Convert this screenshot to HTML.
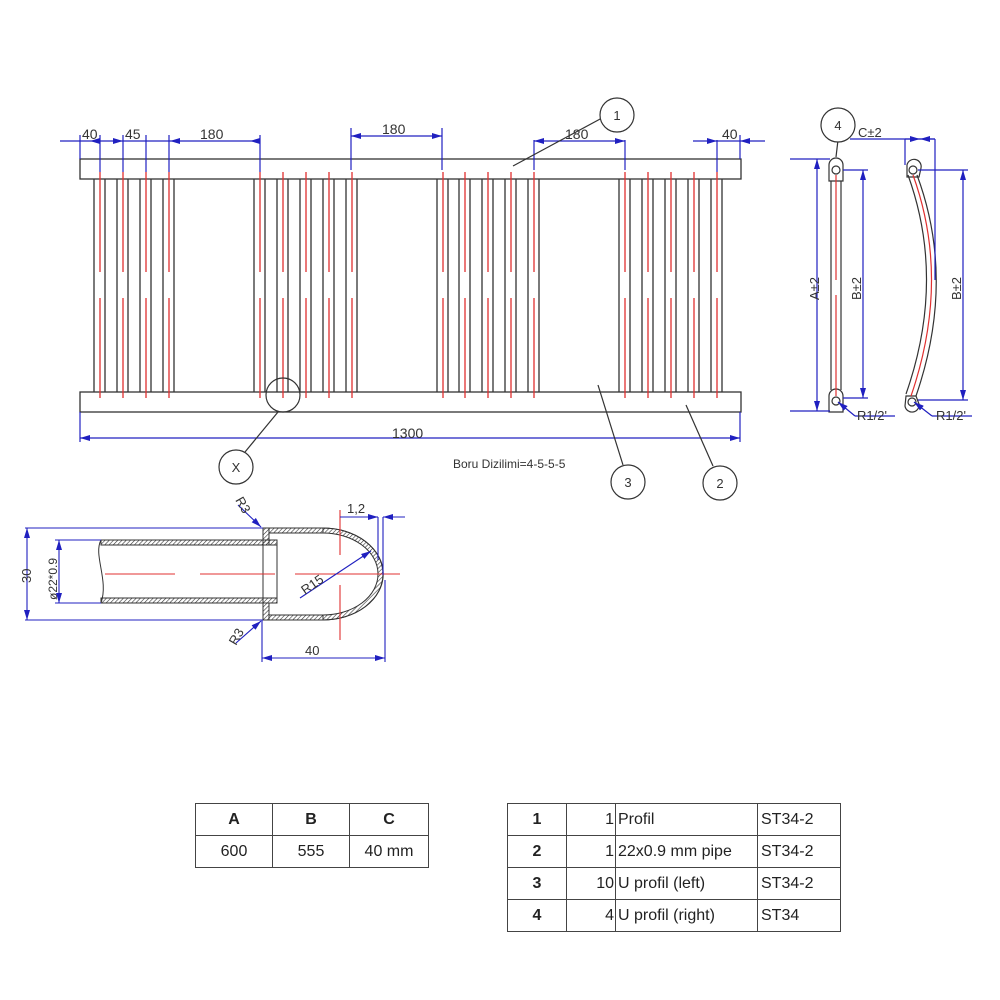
<!DOCTYPE html>
<html><head><meta charset="utf-8"><style>
html,body{margin:0;padding:0;background:#fff;}
svg{display:block;font-family:"Liberation Sans",sans-serif;}
table{position:absolute;border-collapse:collapse;font-family:"Liberation Sans",sans-serif;font-size:16px;color:#222;}
td{border:1px solid #444;height:31px;padding:0 3px;}
</style></head><body>
<div style="position:relative;width:1000px;height:1000px;overflow:hidden;">
<svg width="1000" height="1000" viewBox="0 0 1000 1000">
<defs>
<g id="t">
<line x1="-6" y1="179" x2="-6" y2="392" stroke="#333" stroke-width="1.3"/>
<line x1="5" y1="179" x2="5" y2="392" stroke="#333" stroke-width="1.3"/>
<line x1="0" y1="172" x2="0" y2="272" stroke="#e03030" stroke-width="1.3"/>
<line x1="0" y1="298" x2="0" y2="398" stroke="#e03030" stroke-width="1.3"/>
</g>
<marker id="a" viewBox="0 0 10 6" refX="10" refY="3" markerWidth="10" markerHeight="6" orient="auto-start-reverse" markerUnits="userSpaceOnUse"><path d="M0,0L10,3L0,6z" fill="#2020c0"/></marker>
<pattern id="h" width="3" height="3" patternUnits="userSpaceOnUse" patternTransform="rotate(45)"><line x1="0" y1="0" x2="0" y2="3" stroke="#333" stroke-width="1.2"/></pattern>
</defs>
<!-- main frame -->
<rect x="80" y="159" width="661" height="20" fill="none" stroke="#333" stroke-width="1.3"/>
<rect x="80" y="392" width="661" height="20" fill="none" stroke="#333" stroke-width="1.3"/>
<g>
<use href="#t" x="100"/><use href="#t" x="123"/><use href="#t" x="146"/><use href="#t" x="169"/>
<use href="#t" x="260"/><use href="#t" x="283"/><use href="#t" x="306"/><use href="#t" x="329"/><use href="#t" x="352"/>
<use href="#t" x="443"/><use href="#t" x="465"/><use href="#t" x="488"/><use href="#t" x="511"/><use href="#t" x="534"/>
<use href="#t" x="625"/><use href="#t" x="648"/><use href="#t" x="671"/><use href="#t" x="694"/><use href="#t" x="717"/>
</g>
<!-- dimensions top -->
<g stroke="#2020c0" stroke-width="1.2" fill="none">
<line x1="80" y1="135" x2="80" y2="159"/><line x1="100" y1="135" x2="100" y2="172"/><line x1="123" y1="135" x2="123" y2="172"/>
<line x1="146" y1="135" x2="146" y2="172"/><line x1="169" y1="135" x2="169" y2="172"/><line x1="260" y1="135" x2="260" y2="172"/>
<line x1="60" y1="141" x2="260" y2="141"/>
<line x1="351" y1="128" x2="351" y2="170"/><line x1="442" y1="128" x2="442" y2="170"/>
<line x1="351" y1="136" x2="442" y2="136" marker-start="url(#a)" marker-end="url(#a)"/>
<line x1="534" y1="140" x2="534" y2="170"/><line x1="625" y1="140" x2="625" y2="170"/>
<line x1="534" y1="141" x2="625" y2="141" marker-start="url(#a)" marker-end="url(#a)"/>
<line x1="717" y1="140" x2="717" y2="172"/><line x1="740" y1="135" x2="740" y2="159"/>
<line x1="693" y1="141" x2="765" y2="141"/>
<line x1="80" y1="412" x2="80" y2="442"/><line x1="740" y1="412" x2="740" y2="442"/>
<line x1="80" y1="438" x2="740" y2="438" marker-start="url(#a)" marker-end="url(#a)"/>
</g>
<g fill="#2020c0"><path d="M170,141l10,-3v6z"/><path d="M250,141l10,-3v6z"/><path d="M717,141l-10,-3v6z"/><path d="M740,141l10,-3v6z"/><path d="M90,141l10,-3v6z"/><path d="M123,141l-10,-3v6z"/></g>
<g font-size="14" fill="#333">
<text x="82" y="139">40</text><text x="125" y="139">45</text><text x="200" y="139">180</text>
<text x="382" y="134">180</text><text x="565" y="139">180</text><text x="722" y="139">40</text>
<text x="392" y="438">1300</text>
<text x="453" y="468" font-size="12">Boru Dizilimi=4-5-5-5</text>
</g>
<!-- balloons -->
<g stroke="#333" stroke-width="1.2" fill="#fff">
<line x1="513" y1="166" x2="602" y2="118"/>
<circle cx="617" cy="115" r="17"/>
<line x1="598" y1="385" x2="623" y2="465"/><circle cx="628" cy="482" r="17"/>
<line x1="686" y1="405" x2="713" y2="466"/><circle cx="720" cy="483" r="17"/>
<circle cx="283" cy="395" r="17" fill="none"/>
<line x1="278" y1="412" x2="245" y2="452"/><circle cx="236" cy="467" r="17"/>
<line x1="838" y1="140" x2="836" y2="157"/><circle cx="838" cy="125" r="17"/>
</g>
<g font-size="13" fill="#333" text-anchor="middle">
<text x="617" y="120">1</text><text x="628" y="487">3</text><text x="720" y="488">2</text><text x="236" y="472">X</text><text x="838" y="130">4</text>
</g>
<!-- side views -->
<g stroke="#333" stroke-width="1.2" fill="none">
<path d="M829,181V165a7,7 0 0 1 14,0V181z"/>
<path d="M829,396V412h14V396a7,7 0 0 0 -14,0z"/>
<line x1="831" y1="181" x2="831" y2="390"/><line x1="841" y1="181" x2="841" y2="390"/>
<circle cx="836" cy="170" r="4"/><circle cx="836" cy="401" r="4"/>
<path d="M908,175 Q946,280 906,394"/><path d="M917,175 Q956,280 916,396"/>
<path d="M907,165a7,7 0 0 1 14,3l-2,9h-12z"/><path d="M906,396l10,0l3,8a7,7 0 0 1 -14,2z"/>
<circle cx="913" cy="170" r="4"/><circle cx="912" cy="402" r="4"/>
</g>
<g stroke="#e03030" stroke-width="1.2" fill="none">
<line x1="836" y1="175" x2="836" y2="280"/><line x1="836" y1="295" x2="836" y2="396"/>
<path d="M913,175 Q951,280 911,396"/>
</g>
<g stroke="#2020c0" stroke-width="1.2" fill="none">
<line x1="790" y1="159" x2="830" y2="159"/><line x1="790" y1="411" x2="830" y2="411"/>
<line x1="817" y1="159" x2="817" y2="411" marker-start="url(#a)" marker-end="url(#a)"/>
<line x1="843" y1="170" x2="868" y2="170"/><line x1="843" y1="398" x2="868" y2="398"/>
<line x1="863" y1="170" x2="863" y2="398" marker-start="url(#a)" marker-end="url(#a)"/>
<line x1="918" y1="170" x2="968" y2="170"/><line x1="918" y1="400" x2="968" y2="400"/>
<line x1="963" y1="170" x2="963" y2="400" marker-start="url(#a)" marker-end="url(#a)"/>
<line x1="850" y1="139" x2="935" y2="139"/>
<line x1="905" y1="139" x2="905" y2="165"/><line x1="935" y1="139" x2="935" y2="280"/>
<line x1="905" y1="139" x2="920" y2="139" marker-end="url(#a)"/><line x1="935" y1="139" x2="920" y2="139" marker-end="url(#a)"/>
<line x1="838" y1="402" x2="855" y2="416" marker-start="url(#a)"/><line x1="855" y1="416" x2="895" y2="416"/>
<line x1="914" y1="402" x2="932" y2="416" marker-start="url(#a)"/><line x1="932" y1="416" x2="972" y2="416"/>
</g>
<g font-size="13" fill="#333">
<text x="858" y="137">C±2</text>
<text x="857" y="420">R1/2'</text><text x="936" y="420">R1/2'</text>
<text transform="translate(819,300) rotate(-90)">A±2</text>
<text transform="translate(861,300) rotate(-90)">B±2</text>
<text transform="translate(961,300) rotate(-90)">B±2</text>
</g>
<!-- detail X -->
<g stroke="#333" stroke-width="1">
<path d="M263,528h60a55,42 0 0 1 0,92h-60z" fill="none"/>
<path d="M263,528h60a60,47 0 0 1 0,0" fill="none"/>
<rect x="101" y="540" width="176" height="5" fill="url(#h)"/>
<rect x="101" y="598" width="176" height="5" fill="url(#h)"/>
<rect x="263" y="528" width="6" height="17" fill="url(#h)"/>
<rect x="263" y="603" width="6" height="17" fill="url(#h)"/>
<rect x="269" y="528" width="54" height="5" fill="url(#h)"/>
<rect x="269" y="615" width="54" height="5" fill="url(#h)"/>
<path d="M323,528a60,46 0 0 1 0,92v-5a55,41 0 0 0 0,-82z" fill="url(#h)"/>
<line x1="277" y1="540" x2="277" y2="603"/>
<path d="M101,540c-8,15 8,40 0,63" fill="none"/>
</g>
<g stroke="#e03030" stroke-width="1.1">
<line x1="105" y1="574" x2="175" y2="574"/><line x1="200" y1="574" x2="275" y2="574"/>
<line x1="295" y1="574" x2="400" y2="574"/>
<line x1="340" y1="510" x2="340" y2="555"/><line x1="340" y1="585" x2="340" y2="640"/>
</g>
<g stroke="#2020c0" stroke-width="1.1" fill="none">
<line x1="25" y1="528" x2="263" y2="528"/><line x1="25" y1="620" x2="263" y2="620"/>
<line x1="27" y1="528" x2="27" y2="620" marker-start="url(#a)" marker-end="url(#a)"/>
<line x1="55" y1="540" x2="101" y2="540"/><line x1="55" y1="603" x2="101" y2="603"/>
<line x1="59" y1="540" x2="59" y2="603" marker-start="url(#a)" marker-end="url(#a)"/>
<line x1="262" y1="620" x2="262" y2="662"/><line x1="385" y1="580" x2="385" y2="662"/>
<line x1="262" y1="658" x2="385" y2="658" marker-start="url(#a)" marker-end="url(#a)"/>
<line x1="378" y1="517" x2="378" y2="560"/><line x1="383" y1="517" x2="383" y2="575"/>
<line x1="340" y1="517" x2="368" y2="517"/><line x1="368" y1="517" x2="378" y2="517" marker-end="url(#a)"/><line x1="405" y1="517" x2="383" y2="517" marker-end="url(#a)"/>
<line x1="238" y1="505" x2="261" y2="527" marker-end="url(#a)"/>
<line x1="236" y1="643" x2="261" y2="621" marker-end="url(#a)"/>
<line x1="300" y1="598" x2="371" y2="551" marker-end="url(#a)"/>
</g>
<g font-size="13" fill="#333">
<text transform="translate(31,583) rotate(-90)">30</text>
<text transform="translate(57,600) rotate(-90)" font-size="12">ø22*0.9</text>
<text x="347" y="513">1,2</text><text x="305" y="655">40</text>
<text transform="translate(235,500) rotate(60)">R3</text>
<text transform="translate(236,646) rotate(-60)">R3</text>
<text transform="translate(305,595) rotate(-35)">R15</text>
</g>
</svg>
<table style="left:195px;top:803px;width:234px;text-align:center;">
<tr><td style="width:70px;font-weight:bold">A</td><td style="width:70px;font-weight:bold">B</td><td style="font-weight:bold">C</td></tr>
<tr><td>600</td><td>555</td><td>40 mm</td></tr>
</table>
<table style="left:507px;top:803px;width:334px;">
<tr><td style="width:52px;text-align:center;font-weight:bold">1</td><td style="width:44px;text-align:right;padding-right:1px">1</td><td style="width:136px;padding-left:2px">Profil</td><td>ST34-2</td></tr>
<tr><td style="text-align:center;font-weight:bold">2</td><td style="text-align:right;padding-right:1px">1</td><td style="padding-left:2px">22x0.9 mm pipe</td><td>ST34-2</td></tr>
<tr><td style="text-align:center;font-weight:bold">3</td><td style="text-align:right;padding-right:1px">10</td><td style="padding-left:2px">U profil (left)</td><td>ST34-2</td></tr>
<tr><td style="text-align:center;font-weight:bold">4</td><td style="text-align:right;padding-right:1px">4</td><td style="padding-left:2px">U profil (right)</td><td>ST34</td></tr>
</table>
</div>
</body></html>
